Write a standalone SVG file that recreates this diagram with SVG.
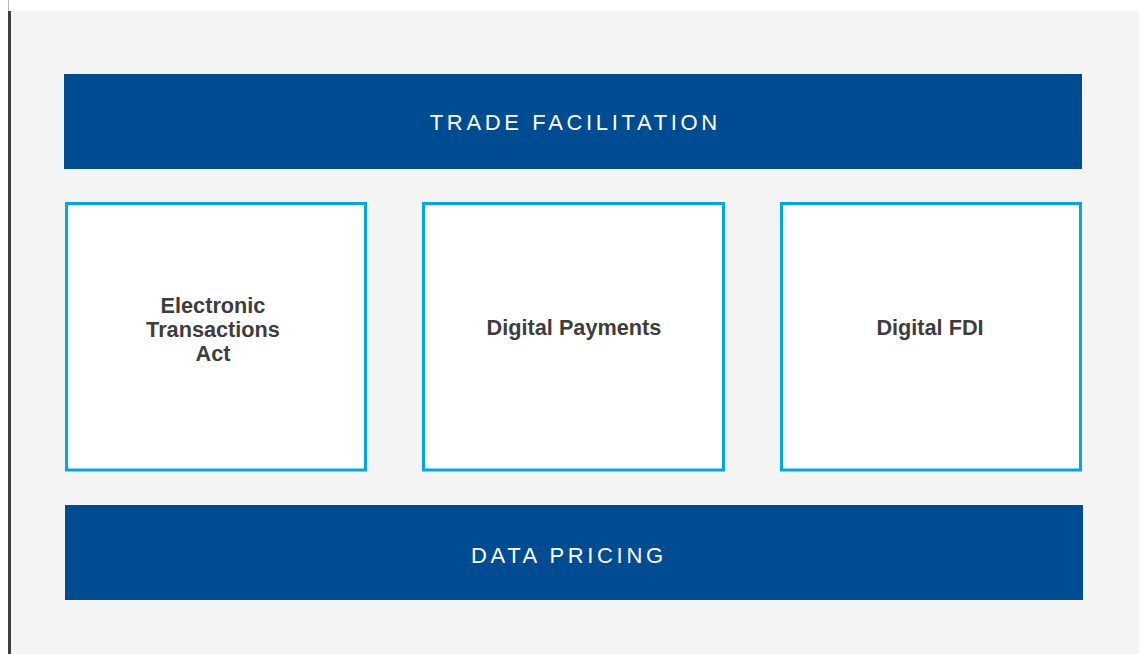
<svg xmlns="http://www.w3.org/2000/svg" width="1142" height="654" viewBox="0 0 1142 654">
<style>
.bar{fill:#004c93}
.bartxt{font-family:"Liberation Sans",Arial,sans-serif;font-size:22px;fill:#ffffff;letter-spacing:3.65px;text-anchor:middle}
.box{fill:#ffffff;stroke:#00a6e8;stroke-width:3}
.boxtxt{font-family:"Liberation Sans",Arial,sans-serif;font-size:21.7px;font-weight:bold;fill:#3d3d3d;text-anchor:middle}
</style>
<rect x="0" y="0" width="1142" height="654" fill="#ffffff"/>
<rect x="11" y="11" width="1128" height="643" fill="#f4f4f4"/>
<rect x="8" y="0" width="1" height="11" fill="#b5b5b5"/>
<rect x="8" y="11" width="3" height="643" fill="#3d3d3d"/>
<g id="trade-facilitation">
<rect class="bar" x="64" y="74" width="1018" height="95"/>
<text class="bartxt" x="575.3" y="130">TRADE FACILITATION</text>
</g>
<g id="electronic-transactions-act">
<rect class="box" x="66.5" y="203.5" width="299" height="266.5"/>
<text class="boxtxt" x="213" y="313">Electronic</text>
<text class="boxtxt" x="213" y="337">Transactions</text>
<text class="boxtxt" x="213" y="361">Act</text>
</g>
<g id="digital-payments">
<rect class="box" x="423.5" y="203.5" width="300" height="266.5"/>
<text class="boxtxt" x="574" y="335">Digital Payments</text>
</g>
<g id="digital-fdi">
<rect class="box" x="781.5" y="203.5" width="299" height="266.5"/>
<text class="boxtxt" x="930" y="335">Digital FDI</text>
</g>
<g id="data-pricing">
<rect class="bar" x="65" y="505" width="1018" height="95"/>
<text class="bartxt" x="568.8" y="563">DATA PRICING</text>
</g>
<g id="connectors"></g>
</svg>
